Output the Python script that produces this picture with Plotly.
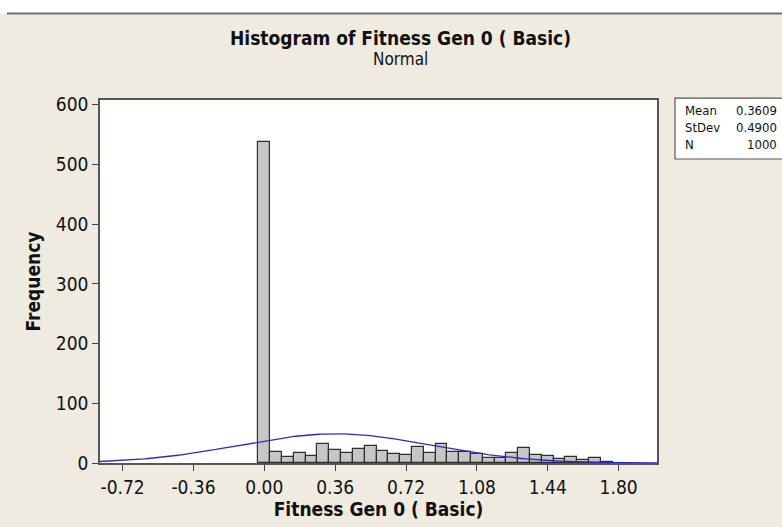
import numpy as np
import plotly.graph_objects as go

# Histogram bin midpoints (bin width 0.06) and their frequencies
bin_width = 0.06
bin_mids = [0.00, 0.06, 0.12, 0.18, 0.24, 0.30, 0.36, 0.42, 0.48, 0.54,
            0.60, 0.66, 0.72, 0.78, 0.84, 0.90, 0.96, 1.02, 1.08, 1.14,
            1.20, 1.26, 1.32, 1.38, 1.44, 1.50, 1.56, 1.62, 1.68, 1.74]
counts = [537, 18, 10, 16, 12, 31, 21, 16, 24, 28,
          20, 15, 13, 27, 16, 32, 18, 18, 15, 9,
          9, 16, 25, 14, 11, 7, 10, 5, 8, 2]

# Summary statistics for the fitted normal curve
mean_val = 0.3609
std_val = 0.4900
n_val = 1000

x_ticks = [-0.72, -0.36, 0.00, 0.36, 0.72, 1.08, 1.44, 1.80]
x_tick_text = ["-0.72", "-0.36", "0.00", "0.36", "0.72", "1.08", "1.44", "1.80"]
y_ticks = [0, 100, 200, 300, 400, 500, 600]

x_range = [-0.835, 1.995]
y_range = [0, 608]

FONT = "Liberation Sans Narrow, DejaVu Sans Condensed, Liberation Sans, Arial, sans-serif"
BG = "#EFEBE1"

# Fitted normal curve scaled to counts per bin
xc = np.linspace(x_range[0], x_range[1], 400)
yc = n_val * bin_width / (std_val * np.sqrt(2 * np.pi)) * np.exp(-0.5 * ((xc - mean_val) / std_val) ** 2)

fig = go.Figure()
fig.add_trace(go.Bar(
    x=bin_mids, y=counts, width=bin_width,
    marker=dict(color="#C6C6C6", line=dict(color="#2E2E2E", width=1.2)),
    hoverinfo="x+y",
))
fig.add_trace(go.Scatter(
    x=xc, y=yc, mode="lines",
    line=dict(color="#2B2BCC", width=1.3),
    hoverinfo="skip",
))

W, H = 782, 527
L, R, T, B = 100, 125, 100, 58

def px_x(p):
    return (p - L) / (W - L - R)

def px_y(p):
    return 1 - (p - T) / (H - T - B)

shapes = [
    # white strip with a rule across the top
    dict(type="rect", xref="paper", yref="paper", x0=px_x(-5), x1=px_x(W + 5),
         y0=px_y(12), y1=px_y(-5), fillcolor="white", line=dict(width=0), layer="below"),
    dict(type="line", xref="paper", yref="paper", x0=px_x(7), x1=px_x(W + 5),
         y0=px_y(12), y1=px_y(12), line=dict(color="#6E6E6E", width=2)),
    # statistics box
    dict(type="rect", xref="paper", yref="paper", x0=px_x(675), x1=px_x(W + 10),
         y0=px_y(160), y1=px_y(98), fillcolor="white", line=dict(color="#555555", width=1.2)),
]

stats_rows = [("Mean", f"{mean_val:.4f}"), ("StDev", f"{std_val:.4f}"), ("N", f"{n_val}")]
annotations = []
for i, (lab, val) in enumerate(stats_rows):
    yy = px_y(111 + i * 17)
    annotations.append(dict(xref="paper", yref="paper", x=px_x(683), y=yy, text=lab,
                            showarrow=False, xanchor="left", yanchor="middle",
                            font=dict(family=FONT, size=13, color="#111")))
    annotations.append(dict(xref="paper", yref="paper", x=px_x(779), y=yy, text=val,
                            showarrow=False, xanchor="right", yanchor="middle",
                            font=dict(family=FONT, size=13, color="#111")))

annotations.append(dict(xref="paper", yref="paper", x=px_x(400), y=px_y(37),
                        text="<b>Histogram of Fitness Gen 0 ( Basic)</b>", showarrow=False,
                        xanchor="center", yanchor="middle",
                        font=dict(family=FONT, size=19, color="#111")))
annotations.append(dict(xref="paper", yref="paper", x=px_x(400), y=px_y(58),
                        text="Normal", showarrow=False, xanchor="center", yanchor="middle",
                        font=dict(family=FONT, size=17, color="#111")))

fig.update_layout(
    width=W, height=H,
    margin=dict(l=L, r=R, t=T, b=B),
    paper_bgcolor=BG, plot_bgcolor="white",
    showlegend=False, bargap=0,
    shapes=shapes, annotations=annotations,
    font=dict(family=FONT, size=19, color="#111"),
    xaxis=dict(
        range=x_range, tickvals=x_ticks, ticktext=x_tick_text,
        ticks="outside", ticklen=6, tickcolor="#444", tickwidth=1.2,
        showline=True, linecolor="#555", linewidth=1.5, mirror=True,
        showgrid=False, zeroline=False,
        tickfont=dict(family=FONT, size=19, color="#111"),
        title=dict(text="<b>Fitness Gen 0 ( Basic)</b>", standoff=4,
                   font=dict(family=FONT, size=19, color="#111")),
    ),
    yaxis=dict(
        range=y_range, tickvals=y_ticks,
        ticks="outside", ticklen=6, tickcolor="#444", tickwidth=1.2,
        showline=True, linecolor="#555", linewidth=1.5, mirror=True,
        showgrid=False, zeroline=False,
        tickfont=dict(family=FONT, size=19, color="#111"),
        title=dict(text="<b>Frequency</b>", standoff=10,
                   font=dict(family=FONT, size=19, color="#111")),
    ),
)

fig.write_html("out.html")
